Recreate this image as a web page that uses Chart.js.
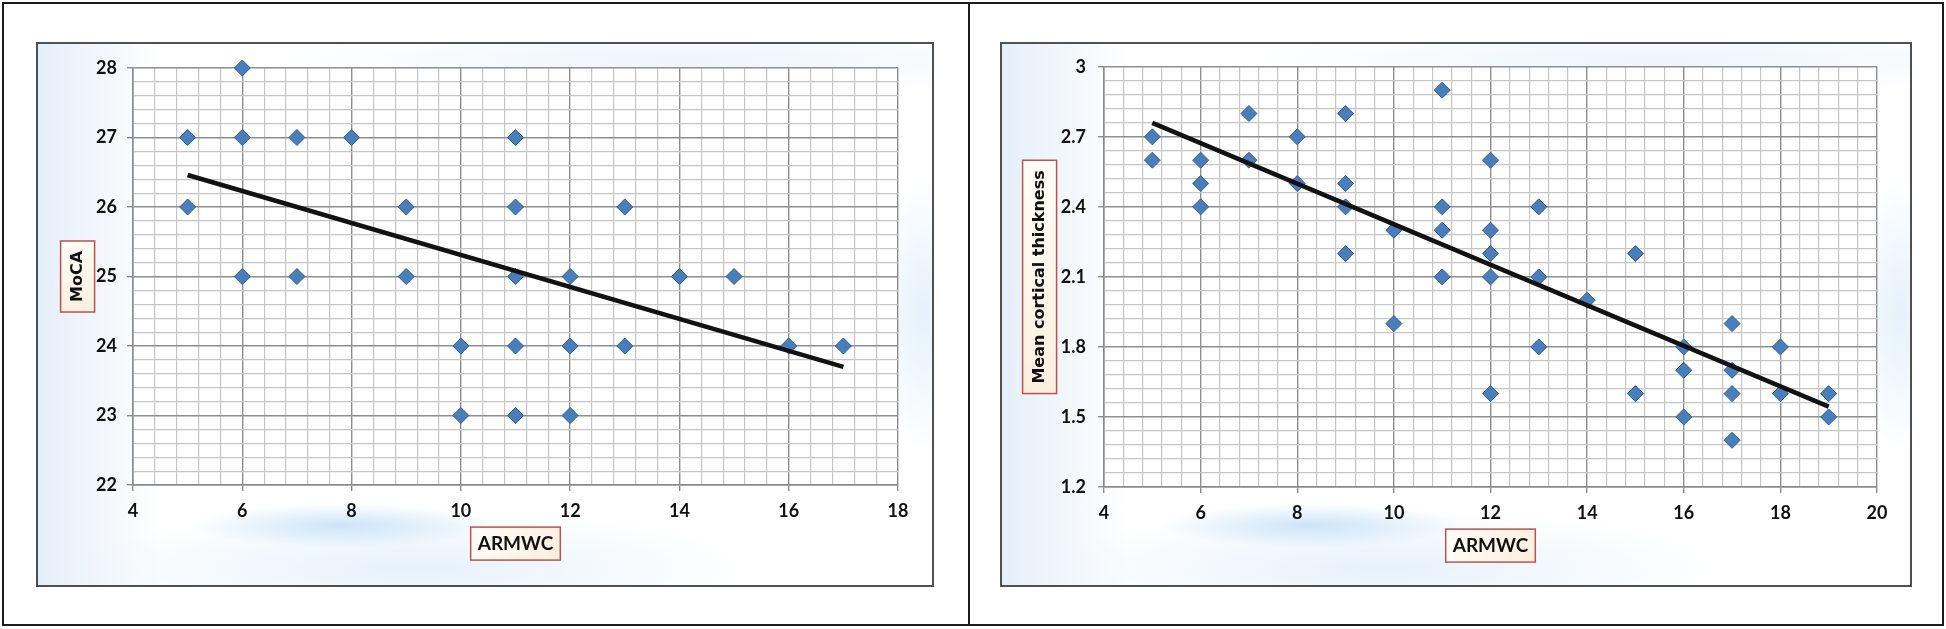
<!DOCTYPE html>
<html>
<head>
<meta charset="utf-8">
<script src="https://cdn.jsdelivr.net/npm/chart.js@4.4.1/dist/chart.umd.min.js"></script>
<style>
  html, body { margin: 0; padding: 0; background: #fff; }
  body { width: 1946px; height: 629px; position: relative; overflow: hidden; }
  .frame { position: absolute; left: 2px; top: 2px; width: 1938px; height: 620px; border: 2px solid #1c1c1c; }
  .divider { position: absolute; left: 968px; top: 2px; width: 2px; height: 624px; background: #1c1c1c; }
  .panel {
    position: absolute; border: 2px solid #505050; box-sizing: border-box;
    background:
      radial-gradient(ellipse 150px 22px at 34% 89%, rgba(150,200,240,0.45), rgba(255,255,255,0)),
      radial-gradient(ellipse 340px 60px at 42% 97%, rgba(200,225,246,0.45), rgba(255,255,255,0)),
      radial-gradient(ellipse 50px 140px at 99% 50%, rgba(210,232,248,0.6), rgba(255,255,255,0)),
      radial-gradient(ellipse 420px 36px at 72% 3%, rgba(225,238,249,0.6), rgba(255,255,255,0)),
      linear-gradient(90deg, rgba(218,232,246,0.7) 0%, rgba(255,255,255,0) 14%),
      #fff;
  }
  #p1 { left: 36px; top: 42px; width: 898px; height: 545px; }
  #p2 { left: 1000px; top: 42px; width: 912px; height: 545px; }
  canvas { position: absolute; }
  #c1 { left: 38px; top: 44px; }
  #c2 { left: 1002px; top: 44px; }
</style>
</head>
<body>
<div class="frame"></div>
<div class="divider"></div>
<div class="panel" id="p1"></div>
<div class="panel" id="p2"></div>
<canvas id="c1" width="894" height="541"></canvas>
<canvas id="c2" width="908" height="541"></canvas>
<script>
// left chart: MoCA vs ARMWC
const mocaX = [5, 5, 6, 6, 6, 7, 7, 8, 9, 9, 10, 10, 11, 11, 11, 11, 11, 12, 12, 12, 13, 13, 14, 15, 16, 17];
const mocaY = [27, 26, 28, 27, 25, 27, 25, 27, 26, 25, 24, 23, 27, 26, 25, 24, 23, 25, 24, 23, 26, 24, 25, 25, 24, 24];
const mocaTrendX = [5, 17];
const mocaTrendY = [26.46, 23.7];

// right chart: mean cortical thickness vs ARMWC
const thickX = [5, 5, 6, 6, 6, 7, 7, 8, 8, 9, 9, 9, 9, 10, 10, 11, 11, 11, 11,
                12, 12, 12, 12, 12, 13, 13, 13, 14, 15, 15, 16, 16, 16, 17, 17, 17, 17, 18, 18, 19, 19];
const thickY = [2.7, 2.6, 2.6, 2.5, 2.4, 2.8, 2.6, 2.7, 2.5, 2.8, 2.5, 2.4, 2.2, 2.3, 1.9, 2.9, 2.4, 2.3, 2.1,
                2.6, 2.3, 2.2, 2.1, 1.6, 2.4, 2.1, 1.8, 2.0, 2.2, 1.6, 1.8, 1.7, 1.5, 1.9, 1.7, 1.6, 1.4, 1.8, 1.6, 1.6, 1.5];
const thickTrendX = [5, 19];
const thickTrendY = [2.76, 1.544];

// axis ranges: [min, max, major, minor]
const mocaXAxis = [4, 18, 2, 0.4];
const mocaYAxis = [22, 28, 1, 0.2];
const thickXAxis = [4, 20, 2, 0.4];
const thickYAxis = [1.2, 3, 0.3, 0.06];

const xTitle = 'ARMWC';
const mocaTitle = 'MoCA';
const thickTitle = 'Mean cortical thickness';

const tickFont = { family: 'Lato, "Open Sans", sans-serif', size: 18, weight: 'bold' };
const xTitleFont = { family: 'Lato, "Open Sans", sans-serif', size: 19, weight: 'bold' };
const yTitleFont = { family: '"DejaVu Sans", Verdana, sans-serif', size: 16, weight: 'bold' };

function isMajor(v, axis) {
  const k = (v - axis[0]) / axis[2];
  return Math.abs(k - Math.round(k)) < 1e-6;
}

function makeScale(axis, title, titlePad, fitSize, horizontal, labelPad) {
  return {
    type: 'linear',
    position: horizontal ? 'bottom' : 'left',
    min: axis[0],
    max: axis[1],
    afterFit: (s) => { if (horizontal) s.height = fitSize; else s.width = fitSize; },
    afterBuildTicks: (s) => {
      // keep exact multiples of the minor step
      const n = Math.round((axis[1] - axis[0]) / axis[3]);
      const ticks = [];
      for (let i = 0; i <= n; i++) ticks.push({ value: +(axis[0] + i * axis[3]).toFixed(4) });
      s.ticks = ticks;
    },
    ticks: {
      stepSize: axis[3],
      autoSkip: false,
      maxRotation: 0,
      padding: labelPad,
      color: '#111',
      font: tickFont,
      callback: (v) => isMajor(v, axis) ? String(Math.round(v * 10) / 10) : ''
    },
    grid: {
      color: (ctx) => isMajor(ctx.tick.value, axis) ? '#8f8f8f' : '#c6c6c6',
      lineWidth: (ctx) => isMajor(ctx.tick.value, axis) ? 1.4 : 1.2,
      tickLength: 6,
      tickColor: (ctx) => isMajor(ctx.tick.value, axis) ? '#8a8a8a' : 'rgba(0,0,0,0)',
      tickWidth: 1.4
    },
    border: { color: '#8a8a8a', width: 1.5 },
    title: {
      display: true,
      text: title,
      color: '#111',
      font: horizontal ? xTitleFont : yTitleFont,
      padding: horizontal ? { top: 0, bottom: titlePad } : { top: titlePad, bottom: 0 }
    }
  };
}

// white plot area and framed axis titles
const decor = {
  id: 'decor',
  beforeDraw(chart) {
    const ctx = chart.ctx;
    const a = chart.chartArea;
    ctx.save();
    ctx.fillStyle = '#ffffff';
    ctx.fillRect(a.left, a.top, a.right - a.left, a.bottom - a.top);
    ['x', 'y'].forEach((id) => {
      const s = chart.scales[id];
      const t = s.options.title;
      const f = Chart.helpers.toFont(t.font);
      ctx.font = f.string;
      const tw = ctx.measureText(t.text).width;
      let cx, cy, w, h;
      if (id === 'x') {
        cx = (s.left + s.right) / 2;
        cy = s.bottom - t.padding.bottom - f.lineHeight / 2;
        w = tw + 14; h = 33;
      } else {
        cx = s.left + t.padding.top + f.lineHeight / 2;
        cy = (s.top + s.bottom) / 2;
        w = 34; h = tw + 20;
      }
      const g = ctx.createLinearGradient(cx - w / 2, cy - h / 2, cx + w / 2, cy + h / 2);
      g.addColorStop(0, '#fffdf8');
      g.addColorStop(1, '#fbeedd');
      ctx.fillStyle = g;
      ctx.fillRect(cx - w / 2, cy - h / 2, w, h);
      ctx.strokeStyle = '#b8544f';
      ctx.lineWidth = 1.5;
      ctx.strokeRect(cx - w / 2, cy - h / 2, w, h);
    });
    ctx.restore();
  }
};

function pts(xs, ys) { return xs.map((x, i) => ({ x: x, y: ys[i] })); }

function drawChart(id, xs, ys, tx, ty, xAxis, yAxis, yTitle, opts) {
  new Chart(document.getElementById(id), {
    type: 'scatter',
    data: {
      datasets: [
        {
          type: 'line',
          data: pts(tx, ty),
          borderColor: '#121212',
          borderWidth: 4.5,
          pointRadius: 0,
          fill: false,
          order: 0
        },
        {
          data: pts(xs, ys),
          pointStyle: 'rectRot',
          pointRadius: 8,
          backgroundColor: '#4a7ebb',
          borderColor: '#2f5e95',
          borderWidth: 1,
          clip: false,
          order: 1
        }
      ]
    },
    options: {
      responsive: false,
      animation: false,
      devicePixelRatio: 1,
      layout: { padding: { left: 0, top: opts.top, right: opts.right, bottom: 0 } },
      plugins: { legend: { display: false }, tooltip: { enabled: false } },
      scales: {
        x: makeScale(xAxis, xTitle, opts.xTitlePad, opts.xFit, true, 9),
        y: makeScale(yAxis, yTitle, opts.yTitlePad, opts.yFit, false, opts.yLabelPad)
      }
    },
    plugins: [decor]
  });
}

function drawAll() {
  drawChart('c1', mocaX, mocaY, mocaTrendX, mocaTrendY, mocaXAxis, mocaYAxis, mocaTitle,
    { top: 24, right: 34, xFit: 100, yFit: 95, xTitlePad: 30, yTitlePad: 30, yLabelPad: 10 });
  drawChart('c2', thickX, thickY, thickTrendX, thickTrendY, thickXAxis, thickYAxis, thickTitle,
    { top: 22, right: 33, xFit: 98, yFit: 102, xTitlePad: 28, yTitlePad: 28, yLabelPad: 12 });
}

Promise.all([
  document.fonts.load('bold 18px Lato'),
  document.fonts.load('bold 16px "DejaVu Sans"')
]).catch(() => {}).then(drawAll);
</script>
</body>
</html>
